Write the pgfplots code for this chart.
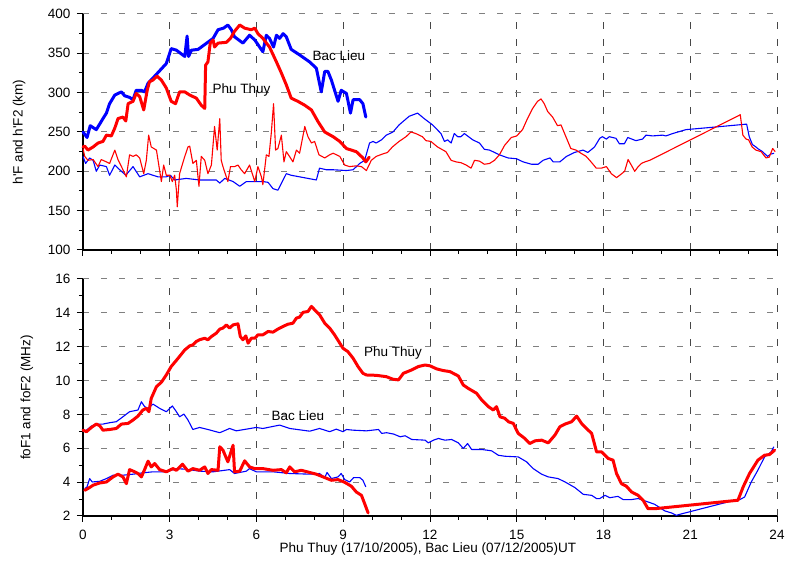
\documentclass[border=0pt]{standalone}
\usepackage{pgfplots}
\pgfplotsset{compat=1.18}
\usepackage{fontspec}
\setmainfont{Liberation Sans}
\definecolor{pblue}{RGB}{0,0,255}
\definecolor{pred}{RGB}{255,0,0}
\newcommand{\cf}{\fontsize{13.5}{16}\selectfont}
\pgfplotsset{
  myax/.style={
    scale only axis, width=694pt,
    xmin=0, xmax=24, xtick={0,3,...,24}, minor x tick num=2,
    axis lines*=left, axis line style={black, line width=1.2pt},
    tick style={black, line width=1pt},
    tick align=outside, major tick length=6pt, minor tick length=4pt,
    xmajorgrids, ymajorgrids,
    major x grid style={black!72, line width=1pt, dash pattern=on 7pt off 10pt},
    major y grid style={black!50, line width=1pt, dash pattern=on 6pt off 12pt},
    font=\cf,
    /pgf/number format/assume math mode=true,
    ticklabel style={font=\cf},
    yticklabel style={xshift=-3pt},
    xticklabel style={yshift=-5pt},
    clip=false,
  },
  thick line/.style={line width=3pt, line join=round, line cap=round},
  thin line/.style={line width=1.1pt, line join=round},
}
\begin{document}
\begin{tikzpicture}
\useasboundingbox (0,0) rectangle (785pt,562pt);
% ================= TOP PANEL =================
\begin{axis}[myax, at={(83pt,312pt)}, anchor=south west, height=236pt,
  ymin=100, ymax=400, ytick={100,150,...,400}, minor y tick num=1,
  xticklabel=\empty,
  ylabel={h\textquotesingle F and h\textquotesingle F2 (km)},
  ylabel style={at={(axis description cs:-0.092,0.5)}, anchor=center},
]
% Bac Lieu h'F (thin blue)
\addplot[thin line, pblue] coordinates {
(0,219) (0.09,210) (0.23,217) (0.35,214) (0.46,200) (0.58,208) (0.81,206) (0.92,195)
(1.1,208) (1.27,202) (1.48,195) (1.73,206) (1.96,193) (2.25,197) (2.59,193) (2.88,193)
(3.02,195) (3.17,189) (3.57,191) (4.03,189) (4.61,189) (4.73,185) (4.9,191) (5.19,187)
(5.42,181) (5.65,187) (5.99,187) (6.22,187) (6.4,186) (6.57,178) (6.74,176) (6.92,189)
(7.03,197) (7.2,195) (8.07,189) (8.18,204) (8.42,202) (8.65,202) (9.11,201) (9.34,202)
(9.57,210) (9.74,214) (9.91,236) (10.03,238) (10.14,236) (10.32,240) (10.49,246)
(10.72,250) (10.93,259) (11.28,270) (11.57,274) (11.8,267) (12.09,259) (12.38,248)
(12.5,238) (12.61,240) (12.73,236) (12.84,248) (12.96,244) (13.07,244) (13.19,248)
(13.48,240) (13.71,236) (13.88,228) (14.06,227) (14.4,221) (14.7,217) (14.99,216)
(15.22,212) (15.51,209) (15.74,209) (15.91,214) (16.15,217) (16.26,212) (16.49,212)
(16.72,219) (17.0,224) (17.29,227) (17.46,224) (17.69,231) (17.87,242) (17.96,244)
(18.1,241) (18.2,244) (18.43,242) (18.55,235) (18.72,235) (18.84,243) (19.12,239)
(19.35,241) (19.47,246) (19.7,245) (20.04,246) (20.16,245) (20.39,248) (20.85,253)
(21.77,256) (22.95,260) (23.04,244) (23.15,234) (23.27,231) (23.33,229) (23.5,225)
(23.67,219) (23.79,222) (23.9,223)
};
% Phu Thuy h'F (thin red)
\addplot[thin line, pred] coordinates {
(0,229) (0.06,219) (0.17,214) (0.35,215) (0.52,206) (0.63,215) (0.81,212) (0.92,210)
(1.1,227) (1.21,215) (1.33,206) (1.5,193) (1.61,221) (1.73,219) (1.84,221) (1.96,217)
(2.1,197) (2.19,214) (2.27,246) (2.36,231) (2.54,227) (2.71,187) (2.79,208) (2.88,195)
(3.0,195) (3.09,187) (3.17,195) (3.23,176) (3.26,155) (3.34,197) (3.52,219) (3.63,231)
(3.69,232) (3.8,210) (3.92,214) (4.01,181) (4.09,219) (4.21,214) (4.32,197) (4.44,208)
(4.55,257) (4.64,227) (4.73,267) (4.78,214) (4.84,206) (5.01,187) (5.1,206) (5.24,206)
(5.36,208) (5.47,202) (5.59,197) (5.76,208) (5.94,187) (6.05,206) (6.17,193) (6.22,183)
(6.34,221) (6.43,219) (6.51,248) (6.59,286) (6.66,227) (6.74,229) (6.86,246) (6.95,212)
(7.03,225) (7.14,219) (7.26,212) (7.38,227) (7.49,223) (7.67,257) (7.78,244) (7.9,236)
(8.01,238) (8.16,221) (8.36,217) (8.53,221) (8.65,223) (8.88,219) (9.05,208) (9.22,206)
(9.45,207) (9.63,206) (9.8,201) (9.97,214) (10.14,219) (10.36,222) (10.53,224)
(10.7,231) (10.93,238) (11.17,244) (11.34,250) (11.51,248) (11.74,244) (11.86,239)
(12.03,238) (12.26,231) (12.55,225) (12.73,214) (12.9,212) (13.07,211) (13.25,208)
(13.42,204) (13.54,214) (13.71,213) (13.88,209) (14.06,210) (14.23,214) (14.4,221)
(14.58,233) (14.81,243) (15.0,245) (15.2,253) (15.37,267) (15.55,280) (15.72,289)
(15.84,292) (15.95,286) (16.07,276) (16.24,269) (16.41,258) (16.53,259) (16.7,244)
(16.87,229) (17.05,227) (17.22,223) (17.4,219) (17.57,212) (17.75,204) (17.92,204)
(18.1,206) (18.27,197) (18.45,192) (18.56,195) (18.73,200) (18.85,215) (18.96,208)
(19.08,200) (19.2,206) (19.31,210) (19.43,212) (19.6,214) (22.68,271) (22.73,272)
(22.82,246) (22.93,241) (23.02,240) (23.14,231) (23.27,227) (23.45,225) (23.62,217)
(23.73,218) (23.85,229) (23.94,225)
};
% Bac Lieu h'F2 (thick blue)
\addplot[thick line, pblue] coordinates {
(0,250) (0.14,243) (0.25,258) (0.46,253) (0.69,267) (0.81,274) (0.92,286) (1.1,297)
(1.33,301) (1.44,296) (1.61,294) (1.73,291) (1.84,303) (2.02,303) (2.13,301) (2.25,312)
(2.48,321) (2.88,337) (3.05,356) (3.23,354) (3.52,346) (3.6,372) (3.65,346) (3.75,354)
(3.98,355) (4.5,369) (4.67,380) (4.86,382) (5.01,386) (5.13,380) (5.24,371) (5.53,363)
(5.76,373) (5.94,367) (6.22,352) (6.34,373) (6.45,369) (6.59,358) (6.69,373) (6.8,369)
(6.92,375) (7.03,371) (7.2,355) (7.49,348) (7.84,339) (8.07,331) (8.24,301) (8.36,327)
(8.47,327) (8.59,316) (8.82,289) (8.93,303) (9.11,299) (9.25,274) (9.34,291) (9.57,291)
(9.68,286) (9.78,269)
};
% Phu Thuy h'F2 (thick red)
\addplot[thick line, pred] coordinates {
(0,231) (0.06,232) (0.17,227) (0.35,231) (0.52,236) (0.69,238) (0.81,246) (0.98,245)
(1.1,255) (1.21,267) (1.38,269) (1.48,264) (1.56,286) (1.73,289) (1.84,299) (1.96,295)
(2.1,278) (2.22,303) (2.3,314) (2.42,316) (2.56,321) (2.71,316) (2.88,306) (3.05,289)
(3.2,286) (3.34,301) (3.52,301) (3.69,297) (3.92,293) (4.09,284) (4.21,280) (4.24,335)
(4.32,339) (4.4,363) (4.5,367) (4.55,358) (4.67,363) (4.96,364) (5.1,369) (5.24,378)
(5.42,386) (5.59,382) (5.82,380) (5.94,382) (6.05,375) (6.22,369) (6.45,358) (6.69,339)
(6.86,325) (7.03,310) (7.2,293) (7.43,289) (7.67,284) (7.9,278) (8.13,263) (8.36,250)
(8.65,244) (8.88,238) (9.11,229) (9.45,225) (9.68,217) (9.78,212) (9.9,218)
};
\node[font=\cf] at (axis cs:8.85,347) {Bac Lieu};
\node[font=\cf] at (axis cs:5.48,303) {Phu Thuy};
\end{axis}
% ================= BOTTOM PANEL =================
\begin{axis}[myax, at={(83pt,46pt)}, anchor=south west, height=237pt,
  ymin=2, ymax=16, ytick={2,4,...,16}, minor y tick num=1,
  ylabel={foF1 and foF2 (MHz)},
  ylabel style={at={(axis description cs:-0.081,0.5)}, anchor=center},
  xlabel={Phu Thuy (17/10/2005), Bac Lieu (07/12/2005)UT},
  xlabel style={at={(axis description cs:0.497,-0.139)}, anchor=center},
]
% Bac Lieu foF2 (thin blue)
\addplot[thin line, pblue] coordinates {
(0,6.98) (0.12,7.07) (0.29,7.31) (0.46,7.43) (0.69,7.43) (0.92,7.51) (1.15,7.57)
(1.38,7.86) (1.61,8.16) (1.9,8.26) (2.02,8.75) (2.13,8.46) (2.25,8.36) (2.42,8.61)
(2.65,8.36) (2.88,8.16) (3.09,8.5) (3.23,8.16) (3.34,7.86) (3.49,8.02) (3.63,7.67)
(3.8,7.11) (4.03,7.23) (4.32,7.11) (4.73,6.92) (5.07,7.17) (5.3,7.03) (5.65,7.13)
(5.99,7.23) (6.22,7.17) (6.8,7.37) (7.15,7.17) (7.84,7.01) (8.18,7.17) (8.53,6.98)
(8.76,7.13) (8.99,6.98) (9.11,7.11) (9.34,7.07) (9.8,7.03) (10.22,7.11) (10.33,6.88)
(10.5,6.92) (10.74,6.84) (10.97,6.68) (11.14,6.74) (11.37,6.52) (11.83,6.48)
(11.94,6.32) (12.12,6.48) (12.29,6.58) (12.52,6.48) (12.75,6.52) (12.98,6.32)
(13.15,5.99) (13.3,6.28) (13.44,5.93) (13.79,5.93) (14.13,5.85) (14.36,5.59)
(14.59,5.53) (15.05,5.49) (15.34,5.2) (15.57,4.8) (15.86,4.47) (16.09,4.31)
(16.43,4.21) (16.67,4.01) (17.01,3.68) (17.3,3.28) (17.59,3.22) (17.76,3.03)
(17.87,3.03) (18.05,3.22) (18.22,3.08) (18.5,3.16) (18.68,2.97) (18.97,2.97)
(19.2,3.03) (19.54,2.83) (19.77,2.69) (20.12,2.3) (20.35,2.18) (20.52,2.04)
(20.64,2.1) (22.53,2.93) (22.71,2.97) (22.88,3.12) (23.11,4.01) (23.34,4.71)
(23.57,5.49) (23.8,5.79) (23.89,6.09)
};
% Bac Lieu foF1 (thin blue)
\addplot[thin line, pblue] coordinates {
(0.06,3.62) (0.14,3.72) (0.23,4.21) (0.32,4.01) (0.58,4.05) (0.81,4.21) (1.04,4.41)
(1.38,4.41) (1.73,4.47) (2.07,4.55) (2.42,4.61) (2.88,4.61) (3.23,4.8) (3.57,4.76)
(4.03,4.65) (4.5,4.61) (5.07,4.74) (5.24,4.51) (5.65,4.65) (5.76,4.8) (5.99,4.61)
(6.57,4.61) (7.15,4.51) (7.84,4.47) (8.18,4.51) (8.36,4.27) (8.44,4.57) (8.59,4.21)
(8.82,4.31) (8.93,4.51) (9.05,4.15) (9.22,4.01) (9.36,4.27) (9.57,4.27) (9.68,4.11)
(9.78,3.72)
};
% Phu Thuy foF2 (thick red)
\addplot[thick line, pred] coordinates {
(0,7.07) (0.12,6.98) (0.29,7.23) (0.46,7.43) (0.58,7.33) (0.69,7.07) (0.92,7.11)
(1.15,7.17) (1.33,7.43) (1.56,7.47) (1.73,7.67) (1.9,7.9) (2.07,8.26) (2.19,8.36)
(2.28,8.16) (2.36,8.95) (2.54,9.64) (2.71,9.9) (2.88,10.33) (3.05,10.83) (3.29,11.32)
(3.52,11.81) (3.69,12.05) (3.8,12.11) (3.92,12.31) (4.03,12.41) (4.21,12.5) (4.32,12.41)
(4.44,12.6) (4.61,12.8) (4.73,13.04) (4.84,13.1) (4.96,13.29) (5.07,13.1) (5.19,13.29)
(5.36,13.35) (5.44,12.6) (5.53,12.41) (5.63,12.64) (5.71,12.21) (5.82,12.5) (5.94,12.5)
(6.05,12.7) (6.22,12.7) (6.4,12.9) (6.57,12.86) (6.74,13.04) (6.92,13.2) (7.09,13.33)
(7.26,13.39) (7.38,13.69) (7.49,13.75) (7.61,14.03) (7.78,14.08) (7.9,14.38) (8.01,14.18)
(8.18,13.89) (8.36,13.39) (8.53,13.1) (8.7,12.7) (8.88,12.21) (8.99,11.91) (9.16,11.71)
(9.34,11.32) (9.51,10.83) (9.68,10.43) (9.8,10.33) (10.14,10.31) (10.49,10.23)
(10.72,10.08) (10.91,10.04) (11.08,10.43) (11.37,10.63) (11.6,10.83) (11.83,10.92)
(12.0,10.87) (12.23,10.69) (12.46,10.59) (12.69,10.53) (12.98,10.27) (13.15,9.74)
(13.32,9.54) (13.61,9.25) (13.79,8.85) (14.02,8.46) (14.19,8.26) (14.3,8.46) (14.42,7.86)
(14.59,7.77) (14.71,7.57) (14.88,7.47) (15.05,6.88) (15.28,6.58) (15.45,6.28)
(15.63,6.44) (15.86,6.48) (16.09,6.32) (16.32,6.78) (16.49,7.27) (16.67,7.43)
(16.9,7.57) (17.07,7.9) (17.24,7.47) (17.41,7.17) (17.59,6.88) (17.76,5.79) (17.93,5.79)
(18.16,5.4) (18.33,5.3) (18.45,4.51) (18.62,3.91) (18.79,3.76) (18.97,3.42) (19.2,3.22)
(19.37,2.93) (19.54,2.43) (19.77,2.43) (22.65,2.93) (22.83,3.72) (23.05,4.51)
(23.34,5.3) (23.57,5.59) (23.74,5.63) (23.92,5.89)
};
% Phu Thuy foF1 (thick red)
\addplot[thick line, pred] coordinates {
(0.06,3.52) (0.17,3.62) (0.35,3.82) (0.58,3.95) (0.81,4.01) (1.04,4.31) (1.21,4.47)
(1.38,4.31) (1.5,3.91) (1.61,4.74) (1.79,4.61) (1.9,4.51) (2.02,4.31) (2.13,4.74)
(2.25,5.24) (2.36,4.9) (2.48,5.1) (2.65,4.74) (2.88,4.61) (3.11,4.8) (3.23,4.7)
(3.44,5.06) (3.63,4.65) (3.8,4.8) (4.03,4.7) (4.21,4.9) (4.32,4.51) (4.44,4.74)
(4.67,4.7) (4.73,6.09) (4.84,5.89) (5.01,5.2) (5.19,6.18) (5.24,4.61) (5.42,4.65)
(5.59,5.26) (5.76,4.9) (5.94,4.8) (6.22,4.8) (6.57,4.7) (6.86,4.74) (7.03,4.55)
(7.15,4.9) (7.32,4.61) (7.55,4.7) (7.84,4.57) (8.07,4.47) (8.36,4.27) (8.59,4.11)
(8.82,4.15) (9.05,3.99) (9.28,3.76) (9.45,3.42) (9.63,3.22) (9.74,2.73) (9.86,2.18)
};
\node[font=\cf] at (axis cs:10.72,11.63) {Phu Thuy};
\node[font=\cf] at (axis cs:7.43,7.91) {Bac Lieu};
\end{axis}
\end{tikzpicture}
\end{document}
